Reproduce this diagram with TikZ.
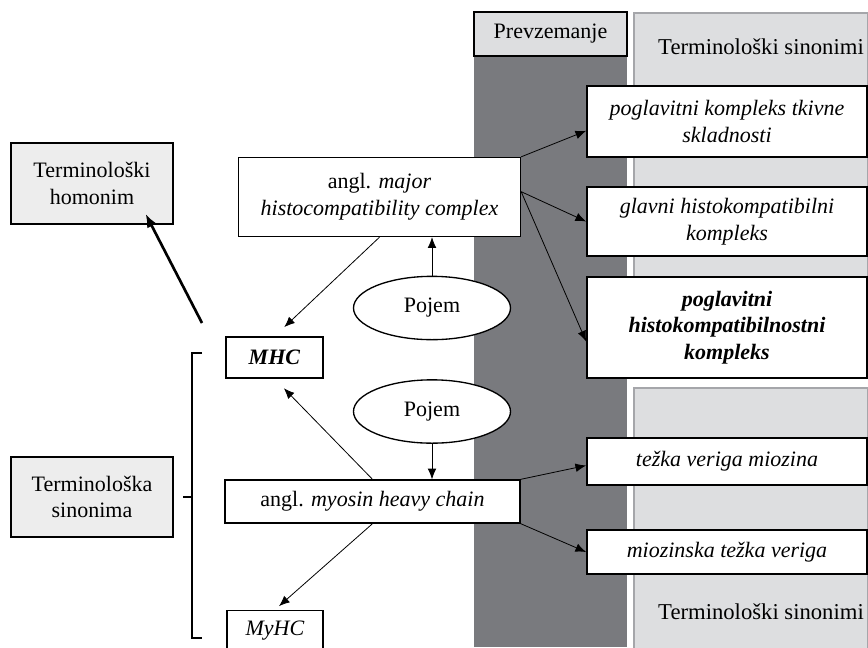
\documentclass[tikz,border=0pt]{standalone}
\usepackage{fontspec}
\setmainfont{Liberation Serif}
\usetikzlibrary{shapes.geometric,arrows.meta,calc}
\definecolor{darkcol}{RGB}{121,122,126}
\definecolor{panelgray}{RGB}{221,222,224}
\definecolor{panelline}{RGB}{165,166,170}
\definecolor{boxgray}{RGB}{237,237,237}
\tikzset{every picture/.style={line width=0.75pt}}

\begin{document}
\begin{tikzpicture}[x=0.75pt,y=0.75pt,yscale=-1,xscale=1,
  every node/.style={font=\fontsize{16.5}{20}\selectfont},
  termbox/.style={draw, line width=1pt, fill=white, inner sep=2pt, align=center},
  graybox/.style={termbox, fill=boxgray},
  synbox/.style={termbox, line width=1.3pt, minimum width=210pt, font=\fontsize{16.5}{20}\selectfont\itshape},
  concept/.style={draw, ellipse, line width=1pt, fill=white, minimum width=117.75pt, minimum height=47.5pt},
  link/.style={-{Latex[length=8pt,width=6.5pt]}, line width=0.6pt},
  boldlink/.style={-{Latex[length=10pt,width=8pt]}, line width=2pt}
]
\useasboundingbox (0,0) rectangle (868,647);

%Shape: Rectangle [id:prevzemanje column]
\fill [darkcol] (474,56) rectangle (627,647);
%Shape: Rectangle [id:upper panel]
\draw [panelline, fill=panelgray, line width=1pt] (634,13) rectangle (868,365);
%Shape: Rectangle [id:lower panel]
\draw [panelline, fill=panelgray, line width=1pt] (634,388) rectangle (868,660);

% Text Node
\node [termbox, line width=1.3pt, fill=panelgray, minimum width=114.75pt, minimum height=33pt] (prevz) at (550.5,34) {Prevzemanje};
% Text Node
\node [font=\fontsize{17}{20}\selectfont] (synup) at (761,47) {Terminološki sinonimi};
% Text Node
\node [font=\fontsize{17}{20}\selectfont] (syndown) at (761,612) {Terminološki sinonimi};

% Text Node
\node [graybox, minimum width=121.5pt, minimum height=60.75pt] (homonim) at (92,183.5) {Terminološki\\homonim};
% Text Node
\node [graybox, minimum width=121.5pt, minimum height=60pt] (sinonima) at (92,497) {Terminološka\\sinonima};

% Text Node
\node [termbox, minimum width=211.5pt, minimum height=59.25pt] (major) at (379.5,197) {angl. \textit{major}\\\textit{histocompatibility complex}};
% Text Node
\node [concept] (pojem1) at (432,308) {Pojem};
% Text Node
\node [termbox, minimum width=72.75pt, minimum height=30.75pt] (mhc) at (274.5,357.5) {\textbf{\textit{MHC}}};
% Text Node
\node [concept] (pojem2) at (432,411.5) {Pojem};
% Text Node
\node [termbox, minimum width=221.25pt, minimum height=32.25pt] (myosin) at (372.5,501.5) {angl. \textit{myosin heavy chain}};
% Text Node
\node [termbox, minimum width=72pt, minimum height=31pt] (myhc) at (275,631) {\textit{MyHC}};

% Text Node
\node [synbox, minimum height=53.25pt] (pogl) at (727,121.5) {poglavitni kompleks tkivne\\skladnosti};
% Text Node
\node [synbox, minimum height=51.75pt] (glavni) at (727,221.5) {glavni histokompatibilni\\kompleks};
% Text Node
\node [synbox, minimum height=75.75pt, font=\fontsize{16.5}{20}\selectfont\bfseries\itshape] (bold) at (727,327.5) {poglavitni\\histokompatibilnostni\\kompleks};
% Text Node
\node [synbox, minimum height=35.25pt] (tezka) at (727,461.5) {težka veriga miozina};
% Text Node
\node [synbox, minimum height=33pt] (mioz) at (727,552) {miozinska težka veriga};

%Straight Lines [id:major to synonyms]
\draw [link] (major.north east) -- ([yshift=7pt]pogl.west);
\draw [link] ([yshift=-4pt]major.east) -- (glavni.west);
\draw [link] ([yshift=-4pt]major.east) -- ([yshift=10.5pt]bold.west);
%Straight Lines [id:myosin to synonyms]
\draw [link] (myosin.north east) -- ([yshift=3pt]tezka.west);
\draw [link] (myosin.south east) -- (mioz.west);

%Straight Lines [id:concepts]
\draw [link] (pojem1.north) -- (pojem1.north |- major.south);
\draw [link] (pojem2.south) -- (pojem2.south |- myosin.north);

%Straight Lines [id:abbreviations]
\draw [link, shorten >=10pt] (major.south) -- (mhc.north);
\draw [link, shorten >=10pt] (myosin.north) -- (mhc.south);
\draw [link, shorten >=4pt] (myosin.south) -- (myhc.north);

%Straight Lines [id:bracket]
\draw [line width=2pt] (202,353) -- (192,353) -- (192,638) -- (202,638);
\draw [line width=2pt] (192,497) -- (sinonima.east -| 183,0);
%Straight Lines [id:homonym arrow]
\coordinate (brtop) at (202,323);
\draw [boldlink] (brtop) -- ([xshift=-21pt,yshift=-8pt]homonim.south east);

\end{tikzpicture}
\end{document}
